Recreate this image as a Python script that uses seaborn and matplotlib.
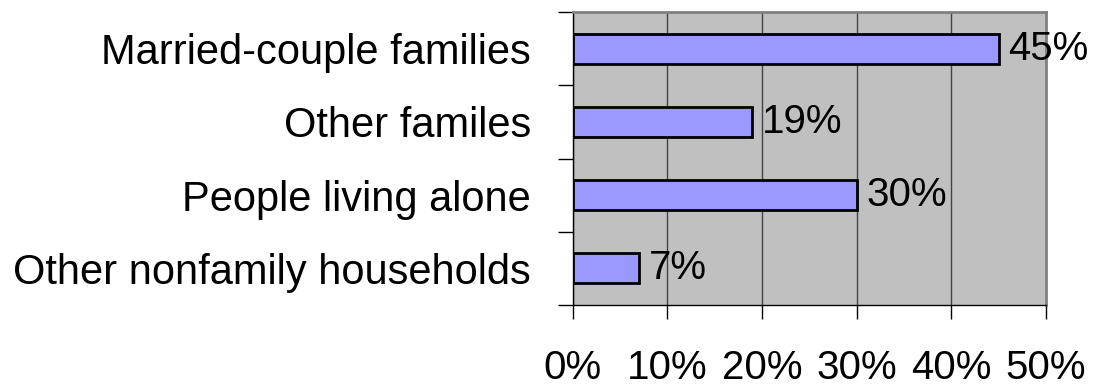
import numpy as np
import pandas as pd
import matplotlib
matplotlib.use('Agg')
import matplotlib.pyplot as plt
import seaborn as sns

# Data
categories = ['Married-couple families', 'Other familes', 'People living alone', 'Other nonfamily households']
shares = [45, 19, 30, 7]
xticks = [0, 10, 20, 30, 40, 50]

df = pd.DataFrame({'category': categories, 'share': shares})

sns.set_style('white')
plt.rcParams['font.family'] = ['Liberation Sans', 'DejaVu Sans']
plt.rcParams['text.color'] = 'black'
plt.rcParams['xtick.color'] = 'black'
plt.rcParams['ytick.color'] = 'black'

fig = plt.figure(figsize=(11, 3.9), dpi=100)
ax = fig.add_axes([0.5205, 0.2179, 0.4305, 0.7513])
ax.set_facecolor('#C0C0C0')

sns.barplot(data=df, x='share', y='category', orient='h', color='#9999FF',
            edgecolor='black', linewidth=2, width=0.41, saturation=1, ax=ax, zorder=3)

# value labels
for i, v in enumerate(shares):
    ax.annotate(f'{v}%', (v, i), xytext=(7, 0), textcoords='offset points',
                va='center', ha='left', fontsize=29, color='black', zorder=5,
                annotation_clip=False)

ax.set_xlim(0, 50)
ax.set_ylim(3.5, -0.5)
ax.set_xticks(xticks)
ax.set_xticklabels([f'{t}%' for t in xticks], fontsize=29)
ax.tick_params(axis='x', length=10, width=1, color='black', labelcolor='black', pad=22, bottom=True)

# category labels, tick marks on the boundaries
ax.set_yticks(range(len(categories)))
ax.set_yticklabels(categories, fontsize=30)
ax.tick_params(axis='y', which='major', length=0, pad=30, labelcolor='black')
ax.set_yticks(np.arange(-0.5, len(categories), 1), minor=True)
ax.tick_params(axis='y', which='minor', length=11, width=1, color='black', left=True)

ax.xaxis.grid(True, color='#444444', linewidth=1, zorder=1)
ax.set_axisbelow(True)
ax.set_xlabel('')
ax.set_ylabel('')

for side in ['top', 'right']:
    ax.spines[side].set_color('#808080')
    ax.spines[side].set_linewidth(2)
ax.spines['left'].set_color('black')
ax.spines['left'].set_linewidth(1)
ax.spines['bottom'].set_color('black')
ax.spines['bottom'].set_linewidth(1)

fig.savefig('out.png', dpi=100)
